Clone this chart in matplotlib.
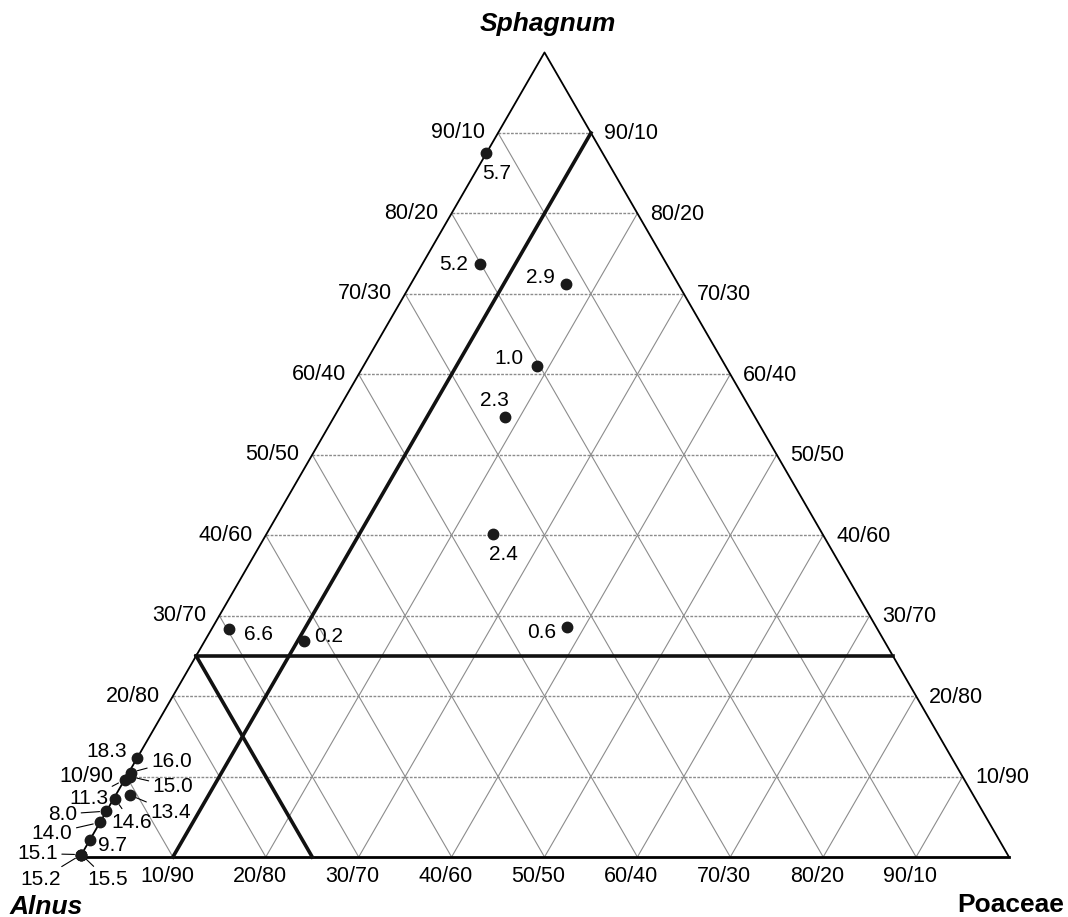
import numpy as np
import matplotlib.pyplot as plt

plt.rcParams['font.family'] = ['Liberation Sans', 'DejaVu Sans']

# sample composition, percent of Sphagnum and Poaceae (Alnus = rest)
point_labels = ['5.7', '5.2', '2.9', '1.0', '2.3', '2.4', '0.6', '6.6', '0.2',
                '18.3', '16.0', '15.0', '11.3', '13.4', '14.6', '8.0', '14.0',
                '9.7', '15.1', '15.2', '15.5']
sphagnum = [87.5, 73.7, 71.2, 61.0, 54.7, 40.1, 28.6, 28.3, 26.8,
            12.3, 10.5, 10.0, 9.6, 7.7, 7.2, 5.7, 4.3,
            2.1, 0.3, 0.3, 0.3]
poaceae = [0.0, 6.2, 16.7, 18.7, 18.4, 24.4, 38.1, 1.9, 10.7,
           0.0, 0.2, 0.4, 0.0, 1.5, 0.2, 0.0, 0.0,
           0.0, 0.0, 0.0, 0.0]
# label offsets (pixels) and whether a leader line is drawn
label_dx = [10, -26, -25, -28, -11, 10, -25, 29, 25,
            -30, 41, 43, -36, 41, 16, -44, -48, 23, -44, -41, 26]
label_dy = [-20, 0, 7, 8, 16, -20, -6, -5, 5,
            7, 11, -10, -19, -17, -23, -3, -11, -5, 1, -25, -25]
leader = [False] * 10 + [True] * 7 + [False] + [True] * 3

# threshold lines (percent)
sph_limit = 25
poa_limit = 10
aln_limit = 75

grid_steps = list(range(10, 100, 10))
tick_labels = [f'{v}/{100 - v}' for v in grid_steps]


def tern(s, p):
    s = np.asarray(s, dtype=float) / 100
    p = np.asarray(p, dtype=float) / 100
    return p + s / 2, s * np.sqrt(3) / 2


fig = plt.figure(figsize=(10.68, 9.17), dpi=100)
ax = fig.add_axes([0, 0, 1, 1])
ax.set_xlim(-80 / 929, (1068 - 80) / 929)
ax.set_ylim(-(917 - 857) / 929, 857 / 929)
ax.axis('off')

# grid
for v in grid_steps:
    x, y = tern([v, v], [0, 100 - v])
    ax.plot(x, y, color='#8c8c8c', lw=1.0, ls=(0, (2, 1)), zorder=1)
    x, y = tern([0, 100 - v], [v, v])
    ax.plot(x, y, color='#8c8c8c', lw=0.8, zorder=1)
    x, y = tern([0, 100 - v], [100 - v, 0])
    ax.plot(x, y, color='#8c8c8c', lw=0.8, zorder=1)

# outline
x, y = tern([0, 100, 0], [100, 0, 0])
ax.plot(x, y, color='k', lw=1.3, zorder=2)
x, y = tern([0, 0], [0, 100])
ax.plot(x, y, color='k', lw=2.0, zorder=2)

# threshold lines
x, y = tern([sph_limit, sph_limit], [0, 100 - sph_limit])
ax.plot(x, y, color='#111111', lw=2.6, zorder=3)
x, y = tern([0, 100 - poa_limit], [poa_limit, poa_limit])
ax.plot(x, y, color='#111111', lw=2.6, zorder=3)
x, y = tern([100 - aln_limit, 0], [0, 100 - aln_limit])
ax.plot(x, y, color='#111111', lw=2.6, zorder=3)

# tick labels on the three sides
for v, lab in zip(grid_steps, tick_labels):
    ax.annotate(lab, tern(v, 0), xytext=(-13, 0), textcoords='offset pixels',
                ha='right', va='center', fontsize=15.5)
    ax.annotate(lab, tern(v, 100 - v), xytext=(13, -1), textcoords='offset pixels',
                ha='left', va='center', fontsize=15.5)
    ax.annotate(lab, tern(0, v), xytext=(-6, -20), textcoords='offset pixels',
                ha='center', va='center', fontsize=15.5)

# points
px, py = tern(sphagnum, poaceae)
ax.plot(px, py, 'o', color='#1a1a1a', ms=7.5, zorder=5)
for lab, x0, y0, dx, dy, ld in zip(point_labels, px, py, label_dx, label_dy, leader):
    arrow = dict(arrowstyle='-', color='k', lw=0.8, shrinkA=1, shrinkB=5) if ld else None
    ax.annotate(lab, (x0, y0), xytext=(dx, dy), textcoords='offset pixels',
                ha='center', va='center', fontsize=15, arrowprops=arrow, zorder=6)

# vertex names
ax.annotate('Sphagnum', tern(100, 0), xytext=(3, 28), textcoords='offset pixels',
            ha='center', va='center', fontsize=19, fontweight='bold', fontstyle='italic')
ax.annotate('Alnus', tern(0, 0), xytext=(-34, -50), textcoords='offset pixels',
            ha='center', va='center', fontsize=19, fontweight='bold', fontstyle='italic')
ax.annotate('Poaceae', tern(0, 100), xytext=(2, -48), textcoords='offset pixels',
            ha='center', va='center', fontsize=19, fontweight='bold')

fig.savefig('out.png', dpi=100)
